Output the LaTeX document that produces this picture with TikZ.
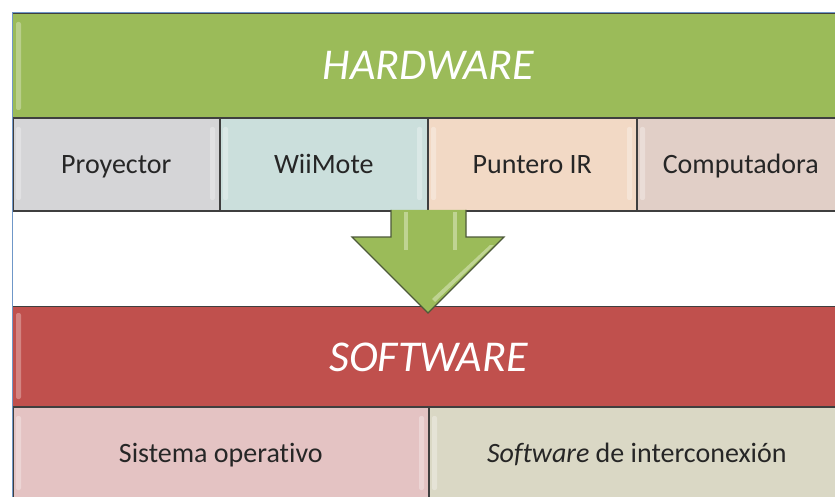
\documentclass[tikz,border=0pt]{standalone}
\usepackage{fontspec}
\setmainfont{Carlito}[Ligatures=NoCommon]
\definecolor{hwgreen}{HTML}{9BBB59}
\definecolor{swred}{HTML}{C0504D}
\definecolor{cgray}{HTML}{D5D5D7}
\definecolor{cteal}{HTML}{CBDFDC}
\definecolor{cpeach}{HTML}{F2D9C5}
\definecolor{crose}{HTML}{E1CFC7}
\definecolor{cpink}{HTML}{E4C3C3}
\definecolor{ckhaki}{HTML}{DAD8C5}
\definecolor{linedark}{HTML}{3F3F3F}
\definecolor{textdark}{HTML}{262626}
\definecolor{edgeblue}{HTML}{6F97C8}
\definecolor{arrowline}{HTML}{4E5A3A}
\definecolor{arrowlight}{HTML}{D8E6B8}
\begin{document}
\begin{tikzpicture}[x=1pt,y=-1pt,
  bar/.style={rectangle, inner sep=0pt, anchor=north west, draw=linedark, line width=1pt,
    text=white, font=\fontsize{44}{48}\selectfont\itshape, text height=28pt, text depth=0pt},
  cell/.style={rectangle, inner sep=0pt, anchor=north west, draw=linedark, line width=1.6pt,
    text=textdark, font=\fontsize{28}{30}\selectfont, text height=18pt, text depth=0pt},
  shine/.style={fill=white, opacity=0.3, rounded corners=2pt}]
\useasboundingbox (0,0) rectangle (835,497);
\fill[white] (0,0) rectangle (835,497);
\begin{scope}
\clip (0,0) rectangle (835,497);
% hardware
\node[bar, fill=hwgreen, minimum width=832pt, minimum height=104pt] (hw) at (12,13) {HARDWARE};
\node[cell, fill=cgray,  minimum width=207pt, minimum height=93pt] (proy) at (12,117) {Proyector};
\node[cell, fill=cteal,  minimum width=208pt, minimum height=93pt] (wii)  at (219,117) {WiiMote};
\node[cell, fill=cpeach, minimum width=209pt, minimum height=93pt] (punt) at (427,117) {Puntero IR};
\node[cell, fill=crose,  minimum width=208pt, minimum height=93pt] (comp) at (636,117) {Computadora};
% software
\node[bar, fill=swred, minimum width=832pt, minimum height=102pt, yshift=-2pt] (sw) at (12,304) {SOFTWARE};
\node[cell, fill=cpink,  minimum width=416pt, minimum height=93pt] (sis) at (12,406) {Sistema operativo};
\node[cell, fill=ckhaki,  minimum width=416pt, minimum height=93pt] (inter) at (428,406) {\textit{Software} de interconexión};
% bevel shine
\foreach \xa/\ya/\yb in {16/22/110, 16/313/399, 16/127/200, 223/127/200, 431/127/200, 640/127/200, 16/416/490, 432/416/490}
  \fill[shine] (\xa,\ya) rectangle ++(5,\yb-\ya);
\foreach \xa/\ya/\yb in {210/127/200, 417/127/200, 627/127/200, 419/416/490}
  \fill[shine] (\xa,\ya) rectangle ++(5,\yb-\ya);
\end{scope}
% outer edges
\draw[edgeblue, line width=1pt] (12,13) -- (12,497);
\draw[edgeblue, line width=1pt] (12,13) -- (835,13);
% arrow
\coordinate (tip) at (428,313);
\draw[fill=hwgreen, draw=arrowline, line width=1.2pt, line join=miter]
  (391,210) -- (391,237) -- (352,237) -- (tip) -- (504,237) -- (466,237) -- (466,210);
\fill[arrowlight, opacity=0.6] (404,212) rectangle (408,250);
\fill[arrowlight, opacity=0.6] (453,212) rectangle (457,250);
\fill[arrowlight, opacity=0.6] (490,245) -- (494,245) -- (435,302) -- (432,299) -- cycle;
\end{tikzpicture}
\end{document}
